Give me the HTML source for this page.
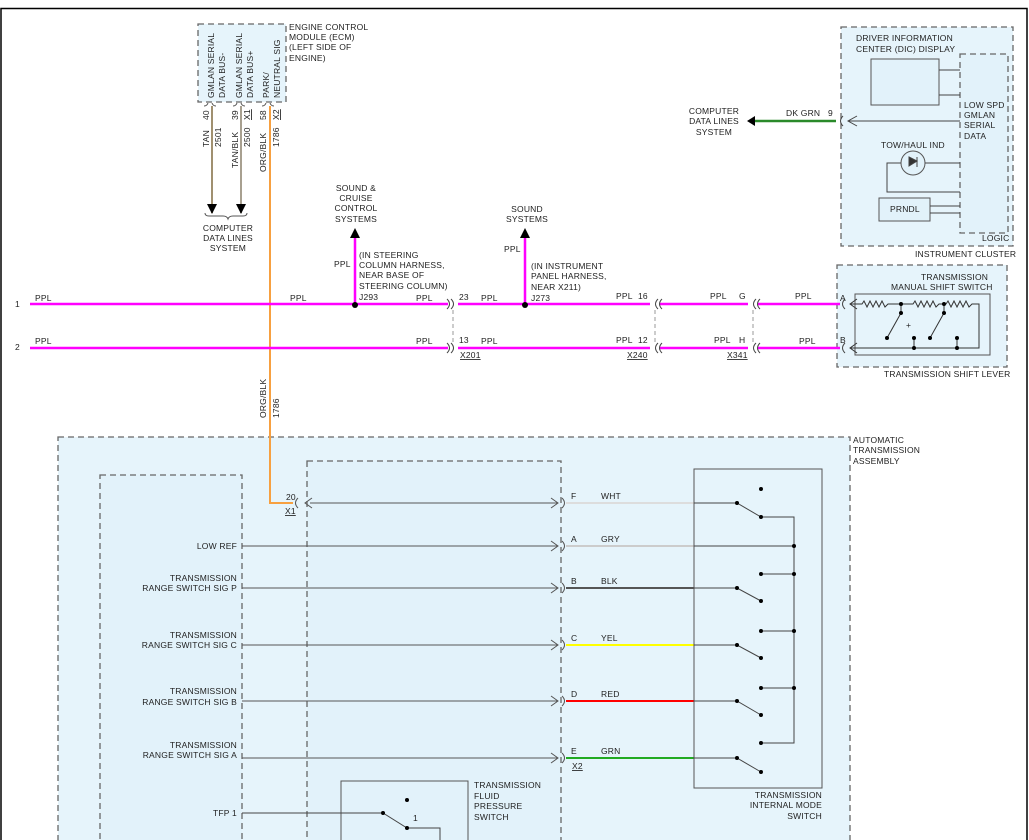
<!DOCTYPE html>
<html><head><meta charset="utf-8"><style>
html,body{margin:0;padding:0;background:#fff}
svg{display:block}
text{font-family:"Liberation Sans",sans-serif;font-size:8.5px;fill:#222;letter-spacing:.2px}
</style></head><body>
<svg width="1029" height="840" viewBox="0 0 1029 840" xmlns="http://www.w3.org/2000/svg">
<rect x="1" y="8.5" width="1026" height="835" fill="none" stroke="#000" stroke-width="1.5"/>
<defs>
<marker id="ar" viewBox="0 0 10 10" refX="9" refY="5" markerWidth="10" markerHeight="10" markerUnits="userSpaceOnUse" orient="auto"><path d="M0,0L10,5L0,10z" fill="#000"/></marker>
</defs>
<g stroke="#666" stroke-dasharray="6,4" stroke-width="1.3" fill="#e6f4fb">
<rect x="58" y="437" width="792" height="410"/>
<rect x="100" y="475" width="142" height="370" fill="#e2f2fa"/>
<rect x="307" y="461" width="254" height="384" fill="#e2f2fa"/>
<rect x="198" y="24" width="88" height="78"/>
<rect x="841" y="27" width="172" height="219"/>
<rect x="960" y="54" width="48" height="179" fill="#e2f2fa"/>
<rect x="837" y="265" width="170" height="102"/>
</g>
<g fill="#e2f2fa" stroke="#555"><rect x="871" y="59" width="68" height="46"/><rect x="879" y="198" width="51" height="23"/><circle cx="913" cy="163" r="12"/></g>
<!-- ECM texts -->
<g>
<text transform="translate(214,98) rotate(-90)">GMLAN SERIAL</text>
<text transform="translate(225,98) rotate(-90)">DATA BUS-</text>
<text transform="translate(242,98) rotate(-90)">GMLAN SERIAL</text>
<text transform="translate(253,98) rotate(-90)">DATA BUS+</text>
<text transform="translate(269,98) rotate(-90)">PARK/</text>
<text transform="translate(280,98) rotate(-90)">NEUTRAL SIG</text>
<text x="289" y="30">ENGINE CONTROL</text><text x="289" y="40">MODULE (ECM)</text><text x="289" y="50">(LEFT SIDE OF</text><text x="289" y="61">ENGINE)</text>
<text transform="translate(209,147) rotate(-90)">TAN</text>
<text transform="translate(209,120) rotate(-90)">40</text>
<text transform="translate(221,147) rotate(-90)">2501</text>
<text transform="translate(238,168) rotate(-90)">TAN/BLK</text>
<text transform="translate(238,120) rotate(-90)">39</text>
<text transform="translate(250,147) rotate(-90)">2500</text>
<text transform="translate(250,120) rotate(-90)" text-decoration="underline">X1</text>
<text transform="translate(266,172) rotate(-90)">ORG/BLK</text>
<text transform="translate(266,120) rotate(-90)">58</text>
<text transform="translate(279,147) rotate(-90)">1786</text>
<text transform="translate(279,120) rotate(-90)" text-decoration="underline">X2</text>
<text transform="translate(266,418) rotate(-90)">ORG/BLK</text>
<text transform="translate(279,418) rotate(-90)">1786</text>
</g>
<g text-anchor="middle"><text x="228" y="231">COMPUTER</text><text x="228" y="241">DATA LINES</text><text x="228" y="251">SYSTEM</text>
<text x="356" y="191">SOUND &amp;</text><text x="356" y="201">CRUISE</text><text x="356" y="211">CONTROL</text><text x="356" y="222">SYSTEMS</text>
<text x="527" y="212">SOUND</text><text x="527" y="222">SYSTEMS</text>
<text x="714" y="114">COMPUTER</text><text x="714" y="124">DATA LINES</text><text x="714" y="135">SYSTEM</text></g>
<g fill="none" stroke-width="2">
<path d="M212,106V213" stroke="#a09070" marker-end="url(#ar)"/>
<path d="M241,106V213" stroke="#a8a090" marker-end="url(#ar)"/>
<path d="M270,106V503H293" stroke="#f7a040"/>
</g>
<path d="M204,106q3,0 4,-3M216,106q-3,0-4,-3M233,106q3,0 4,-3M245,106q-3,0-4,-3M262,106q3,0 4,-3M274,106q-3,0-4,-3M205,213q0,3 4,3h14q4,0 5,3q1,-3 5,-3h10q4,0 4,-3" fill="none" stroke="#555"/>
<!-- PPL wires -->
<g stroke="#f0f" stroke-width="2.5" fill="none">
<path d="M30,304H448M458,304H650M660,304H748M758,304H840"/>
<path d="M30,348H448M458,348H650M660,348H748M758,348H840"/>
<path d="M355,304V236M525,304V236"/>
</g>
<path d="M350,238L355,228L360,238zM520,238L525,228L530,238z" fill="#000"/>
<circle cx="355" cy="305" r="3"/><circle cx="525" cy="305" r="3"/>
<g fill="none" stroke="#444"><path d="M447,299q5,5 0,10M451,299q5,5 0,10M447,343q5,5 0,10M451,343q5,5 0,10M658,299q-5,5 0,10M662,299q-5,5 0,10M658,343q-5,5 0,10M662,343q-5,5 0,10M756,299q-5,5 0,10M760,299q-5,5 0,10M756,343q-5,5 0,10M760,343q-5,5 0,10M845,299q-5,5 0,10M845,343q-5,5 0,10M843,116q-5,5 0,10"/>
<path d="M453,310V342M655,310V342M753,310V342" stroke-dasharray="4,3" stroke="#999"/></g>
<g><text x="15" y="307">1</text><text x="15" y="350">2</text><text x="35" y="301">PPL</text><text x="35" y="344">PPL</text><text x="290" y="301">PPL</text><text x="416" y="301">PPL</text><text x="416" y="344">PPL</text><text x="334" y="267">PPL</text>
<text x="359" y="258">(IN STEERING</text><text x="359" y="268">COLUMN HARNESS,</text><text x="359" y="278">NEAR BASE OF</text><text x="359" y="289">STEERING COLUMN)</text><text x="359" y="300">J293</text>
<text x="459" y="300">23</text><text x="459" y="343">13</text><text x="460" y="358" text-decoration="underline">X201</text><text x="481" y="301">PPL</text><text x="481" y="344">PPL</text>
<text x="504" y="252">PPL</text><text x="531" y="269">(IN INSTRUMENT</text><text x="531" y="279">PANEL HARNESS,</text><text x="531" y="290">NEAR X211)</text><text x="531" y="301">J273</text>
<text x="616" y="299">PPL</text><text x="638" y="299">16</text><text x="616" y="343">PPL</text><text x="638" y="343">12</text><text x="627" y="358" text-decoration="underline">X240</text>
<text x="710" y="299">PPL</text><text x="739" y="299">G</text><text x="714" y="343">PPL</text><text x="739" y="343">H</text><text x="727" y="358" text-decoration="underline">X341</text>
<text x="795" y="299">PPL</text><text x="799" y="344">PPL</text><text x="840" y="301">A</text><text x="840" y="343">B</text>
<text x="856" y="41">DRIVER INFORMATION</text><text x="856" y="52">CENTER (DIC) DISPLAY</text>
<text x="964" y="108">LOW SPD</text><text x="964" y="118">GMLAN</text><text x="964" y="128">SERIAL</text><text x="964" y="139">DATA</text>
<text x="881" y="148">TOW/HAUL IND</text><text x="890" y="212">PRNDL</text><text x="982" y="241">LOGIC</text><text x="915" y="257">INSTRUMENT CLUSTER</text>
<text x="786" y="116">DK GRN</text><text x="828" y="116">9</text>
<text x="921" y="280">TRANSMISSION</text><text x="891" y="290">MANUAL SHIFT SWITCH</text><text x="884" y="377">TRANSMISSION SHIFT LEVER</text>
<text x="853" y="443">AUTOMATIC</text><text x="853" y="453">TRANSMISSION</text><text x="853" y="464">ASSEMBLY</text>
</g>
<path d="M753,121H836" stroke="#2a8a2a" stroke-width="2.5"/><path d="M755,116L747,121L755,126z"/>
<path d="M848,121H960M857,116L848,121L857,126" fill="none" stroke="#444"/>
<g stroke="#444" fill="none"><path d="M939,70H960M939,95H960M925,163H960M901,163H887V192H960M930,206H960M930,213H960"/>
<path d="M909,157L917,161L909,166zM917,157V167" fill="#333"/></g>
<!-- manual shift switch -->
<rect x="855" y="294" width="135" height="61" fill="none" stroke="#555"/>
<g stroke="#333" fill="none"><path d="M850,304H862l2,-3 3,6 3,-6 3,6 3,-6 3,6 3,-6 3,6 3,-3H913l2,-3 3,6 3,-6 3,6 3,-6 3,6 3,-6 3,6 3,-3H946l2,-3 3,6 3,-6 3,6 3,-6 3,6 3,-6 3,6 3,-3H979V348H850M857,299L850,304L857,309M857,343L850,348L857,353M901,304V313L887,338M944,304V313L930,338M914,338V348M957,338V348"/></g>
<g><circle cx="901" cy="304" r="2"/><circle cx="901" cy="313" r="2"/><circle cx="887" cy="338" r="2"/><circle cx="944" cy="304" r="2"/><circle cx="944" cy="313" r="2"/><circle cx="930" cy="338" r="2"/><circle cx="914" cy="338" r="2"/><circle cx="914" cy="348" r="2"/><circle cx="957" cy="338" r="2"/><circle cx="957" cy="348" r="2"/></g>
<text x="906" y="328" font-size="7">+</text>
<!-- transmission rows -->
<g stroke="#555" fill="none"><path d="M242,546H558M242,588H558M242,645H558M242,701H558M242,758H558M310,503H558M312,498L305,503L312,508"/>
<path d="M551,498L558,503L551,508M551,541L558,546L551,551M551,583L558,588L551,593M551,640L558,645L551,650M551,696L558,701L551,706M551,753L558,758L551,763"/>
<path d="M562,498q5,5 0,10M562,541q5,5 0,10M562,583q5,5 0,10M562,640q5,5 0,10M562,696q5,5 0,10M562,753q5,5 0,10M298,498q-5,5 0,10"/></g>
<g stroke-width="2"><path d="M566,503H694" stroke="#ddd"/><path d="M566,546H694" stroke="#ccc"/><path d="M566,588H694" stroke="#555"/><path d="M566,645H694" stroke="#ff0"/><path d="M566,701H694" stroke="#f00"/><path d="M566,758H694" stroke="#2a2"/></g>
<rect x="694" y="469" width="128" height="319" fill="none" stroke="#555"/>
<g stroke="#444" fill="none"><path d="M694,503H737L761,517H794V743H761M694,546H794M694,588H737L761,601M761,574H794M694,645H737L761,658M761,631H794M694,701H737L761,715M761,688H794M694,758H737L761,772"/></g>
<g><circle cx="761" cy="489" r="2"/><circle cx="737" cy="503" r="2"/><circle cx="761" cy="517" r="2"/><circle cx="794" cy="546" r="2"/><circle cx="761" cy="574" r="2"/><circle cx="794" cy="574" r="2"/><circle cx="737" cy="588" r="2"/><circle cx="761" cy="601" r="2"/><circle cx="761" cy="631" r="2"/><circle cx="794" cy="631" r="2"/><circle cx="737" cy="645" r="2"/><circle cx="761" cy="658" r="2"/><circle cx="761" cy="688" r="2"/><circle cx="794" cy="688" r="2"/><circle cx="737" cy="701" r="2"/><circle cx="761" cy="715" r="2"/><circle cx="761" cy="743" r="2"/><circle cx="737" cy="758" r="2"/><circle cx="761" cy="772" r="2"/></g>
<g text-anchor="end"><text x="822" y="798">TRANSMISSION</text><text x="822" y="808">INTERNAL MODE</text><text x="822" y="819">SWITCH</text>
<text x="237" y="549">LOW REF</text><text x="237" y="581">TRANSMISSION</text><text x="237" y="591">RANGE SWITCH SIG P</text>
<text x="237" y="638">TRANSMISSION</text><text x="237" y="648">RANGE SWITCH SIG C</text>
<text x="237" y="694">TRANSMISSION</text><text x="237" y="705">RANGE SWITCH SIG B</text>
<text x="237" y="748">TRANSMISSION</text><text x="237" y="758">RANGE SWITCH SIG A</text><text x="237" y="816">TFP 1</text></g>
<g><text x="286" y="500">20</text><text x="285" y="514" text-decoration="underline">X1</text>
<text x="571" y="499">F</text><text x="601" y="499">WHT</text><text x="571" y="542">A</text><text x="601" y="542">GRY</text><text x="571" y="584">B</text><text x="601" y="584">BLK</text><text x="571" y="641">C</text><text x="601" y="641">YEL</text><text x="571" y="697">D</text><text x="601" y="697">RED</text><text x="571" y="754">E</text><text x="601" y="754">GRN</text><text x="572" y="769" text-decoration="underline">X2</text>
<text x="474" y="788">TRANSMISSION</text><text x="474" y="799">FLUID</text><text x="474" y="809">PRESSURE</text><text x="474" y="820">SWITCH</text><text x="413" y="821">1</text></g>
<rect x="341" y="781" width="127" height="65" fill="none" stroke="#555"/>
<path d="M242,813H383L407,828H440V845" fill="none" stroke="#444"/>
<circle cx="407" cy="800" r="2"/><circle cx="383" cy="813" r="2"/><circle cx="407" cy="828" r="2"/>
</svg>
</body></html>
